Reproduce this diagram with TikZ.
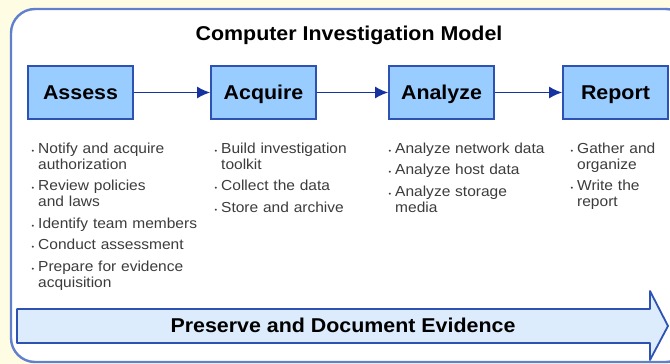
\documentclass[tikz,border=0pt]{standalone}
\usepackage{fontspec}
\setmainfont{Liberation Sans}[FakeStretch=1.07]
\usepackage{enumitem}
\usetikzlibrary{arrows.meta}
\definecolor{slideBg}{RGB}{254,252,226}
\definecolor{frameBlue}{RGB}{96,128,206}
\definecolor{boxFill}{RGB}{153,204,255}
\definecolor{boxLine}{RGB}{46,82,180}
\definecolor{flowBlue}{RGB}{22,50,160}
\definecolor{bandFill}{RGB}{220,236,252}
\definecolor{taskText}{RGB}{60,60,60}
\newlist{tasklist}{itemize}{1}
\setlist[tasklist]{label={\scriptsize\textbullet},leftmargin=9pt,labelsep=4pt,itemsep=5.5pt,topsep=0pt,parsep=0pt,partopsep=0pt}
\begin{document}
\begin{tikzpicture}[x=1pt,y=-1pt]
\tikzstyle{phase}=[rectangle,draw=boxLine,line width=1.6pt,fill=boxFill,minimum width=105pt,minimum height=53pt,inner sep=0pt,text height=17pt,text depth=3pt,font=\fontsize{20}{24}\selectfont\bfseries]
\tikzstyle{tasks}=[anchor=north west,inner sep=0pt,text width=175pt,text=taskText,font=\fontsize{14.5}{16}\selectfont]
\tikzstyle{flow}=[draw=flowBlue,line width=1.8pt,-{Latex[length=13pt,width=12pt]}]

\useasboundingbox (0,0) rectangle (670,364);
\clip (0,0) rectangle (670,364);
\fill[slideBg] (0,0) rectangle (670,364);
\draw[frameBlue,line width=2.4pt,fill=white,rounded corners=24pt] (11,9) rectangle (690,362);

%title
\node[font=\fontsize{20}{24}\selectfont\bfseries] (title) at (349,35) {Computer Investigation Model};

%phases
\node[phase] (assess)  at (80.5,92.5)  {Assess};
\node[phase] (acquire) at (263.5,92.5) {Acquire};
\node[phase] (analyze) at (441.5,92.5) {Analyze};
\node[phase] (report)  at (615.5,92.5) {Report};

\draw[flow] (assess) -- (acquire);
\draw[flow] (acquire) -- (analyze);
\draw[flow] (analyze) -- (report);

%tasks under each phase
\node[tasks] (assessTasks) at (29,137) {\raggedright
\begin{tasklist}
\item Notify and acquire\\ authorization
\item Review policies\\ and laws
\item Identify team members
\item Conduct assessment
\item Prepare for evidence\\ acquisition
\end{tasklist}};
\node[tasks] (acquireTasks) at (212,137) {\raggedright
\begin{tasklist}
\item Build investigation\\ toolkit
\item Collect the data
\item Store and archive
\end{tasklist}};
\node[tasks] (analyzeTasks) at (386,137) {\raggedright
\begin{tasklist}
\item Analyze network data
\item Analyze host data
\item Analyze storage\\ media
\end{tasklist}};
\node[tasks] (reportTasks) at (568,137) {\raggedright
\begin{tasklist}
\item Gather and\\ organize
\item Write the\\ report
\end{tasklist}};

%preserve band
\draw[draw=boxLine,line width=1.8pt,fill=bandFill,line join=round]
  (17,309) -- (650,309) -- (650,291) -- (668,326) -- (650,360) -- (650,343) -- (17,343) -- cycle;
\node[font=\fontsize{20}{24}\selectfont\bfseries] (preserve) at (343,325) {Preserve and Document Evidence};
\end{tikzpicture}
\end{document}
